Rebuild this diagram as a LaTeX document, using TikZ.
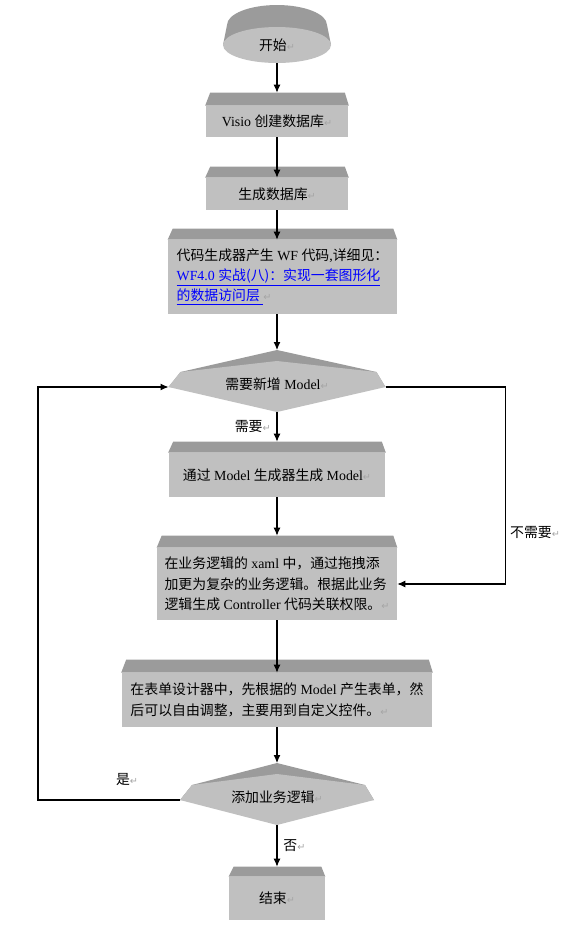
\documentclass[tikz,border=0pt]{standalone}
\usepackage{fontspec}
\setmainfont{Liberation Serif}
\newfontfamily\cjk{Noto Sans CJK SC}
\newfontfamily\symfont{DejaVu Sans}
\usetikzlibrary{calc,arrows.meta,shapes.geometric}
\definecolor{facegray}{RGB}{192,192,192}
\definecolor{bevelgray}{RGB}{155,155,155}
\definecolor{markgray}{RGB}{165,165,165}
\newcommand\zh[1]{{\cjk #1}}
\newcommand\ret{{\symfont\fontsize{5.5}{5.5}\selectfont\textcolor{markgray}{↵}}}
\newcommand\link[1]{\textcolor{blue}{\underline{#1}}}
\newcommand\bevel[2]{%
  \fill[bevelgray] (#1.north west) -- ++(5,-#2) -- ($(#1.north east)+(-4,-#2)$) -- (#1.north east) -- cycle;
  \coordinate (#1-top) at ($(#1.north)+(0,-#2)$);}
\newcommand\decision[4]{%
  \coordinate (#1) at #2;
  \coordinate (#1-n) at ($(#1)+(0,-37)$);
  \coordinate (#1-s) at ($(#1)+(0,25)$);
  \coordinate (#1-w) at ($(#1)+(-#3,0)$);
  \coordinate (#1-e) at ($(#1)+(#3,0)$);
  \fill[bevelgray] (#1-w) -- ++(12,-15) -- (#1-n) -- ($(#1-e)+(-9,-15)$) -- (#1-e) -- cycle;
  \fill[facegray] (#1-w) -- ++(12,-15) -- ($(#1)+(0,-26)$) -- ($(#1-e)+(-9,-15)$) -- (#1-e) -- (#1-s) -- cycle;
  \node (#1-t) at ($(#1)+(0,-3)$) {#4};}
\begin{document}
\begin{tikzpicture}[x=0.02cm,y=-0.02cm,font=\fontsize{7.9}{11.6}\selectfont,
    procbox/.style={fill=facegray,inner sep=0pt,align=left},
    conn/.style={line width=0.6pt,-{Latex[length=1.6mm,width=1.4mm]}}]
\useasboundingbox (0,0) rectangle (575,934);
\fill[bevelgray] (227,25) -- (223,45) -- (331,45) -- (327,25) -- cycle;
\fill[bevelgray] (277,25) ellipse [x radius=50, y radius=20];
\node[ellipse,fill=facegray,inner sep=0pt,minimum width=2.16cm,minimum height=0.72cm] (start) at (277,45) {\zh{开始}\ret};
\node[procbox,minimum width=2.86cm,minimum height=0.62cm] (vis) at (277,121.5) {Visio \zh{创建数据库}\ret};
\bevel{vis}{13}
\node[procbox,minimum width=2.86cm,minimum height=0.64cm] (gen) at (277,194) {\zh{生成数据库}\ret};
\bevel{gen}{11}
\node[procbox,minimum width=4.58cm,minimum height=1.48cm] (code) at (282.5,277) {\zh{代码生成器产生} WF \zh{代码},\zh{详细见：}\\
  \link{WF4.0 \zh{实战(八)：实现一套图形化}}\\
  \link{\zh{的数据访问层}\ }\ret};
\bevel{code}{11}
\decision{need}{(277,387)}{108.5}{\zh{需要新增} Model\ret}
\node[procbox,minimum width=4.34cm,minimum height=0.88cm] (model) at (277,475) {\zh{通过} Model \zh{生成器生成} Model\ret};
\bevel{model}{11}
\node[procbox,minimum width=4.8cm,minimum height=1.44cm] (logic) at (277,584) {\zh{在业务逻辑的} xaml \zh{中，通过拖拽添}\\
  \zh{加更为复杂的业务逻辑。根据此业务}\\
  \zh{逻辑生成} Controller \zh{代码关联权限。}\ret};
\bevel{logic}{12}
\node[procbox,minimum width=6.22cm,minimum height=1.08cm] (form) at (277,700) {\zh{在表单设计器中，先根据的} Model \zh{产生表单，然}\\
  \zh{后可以自由调整，主要用到自定义控件。}\ret};
\bevel{form}{13}
\decision{more}{(277,800)}{97}{\zh{添加业务逻辑}\ret}
\node[procbox,minimum width=1.92cm,minimum height=0.86cm] (finish) at (277,898.5) {\zh{结束}\ret};
\bevel{finish}{10}
\draw[conn] (start) -- (vis-top);
\draw[conn] (vis) -- (gen.north);
\draw[conn] (gen) -- (gen.south |- code.north);
\draw[conn] (code.south -| need-n) -- (need-n);
\draw[conn] (need-s) -- node[left] (needlbl) {\zh{需要}\ret} (model-top);
\draw[conn] (model) -- (logic-top);
\draw[conn] (logic) -- (form.north);
\draw[conn] (form) -- (more-n);
\draw[conn] (more-s) -- node[right] (nolbl) {\zh{否}\ret} (finish-top);
\draw[conn] (need-e) -- ++(120,0) |- (logic.east);
\node (skiplbl) at (535,532) {\zh{不需要}\ret};
\draw[conn] (more-w) -- ++(-142,0) |- (need-w);
\node (yeslbl) at (127,780) {\zh{是}\ret};
\end{tikzpicture}
\end{document}
